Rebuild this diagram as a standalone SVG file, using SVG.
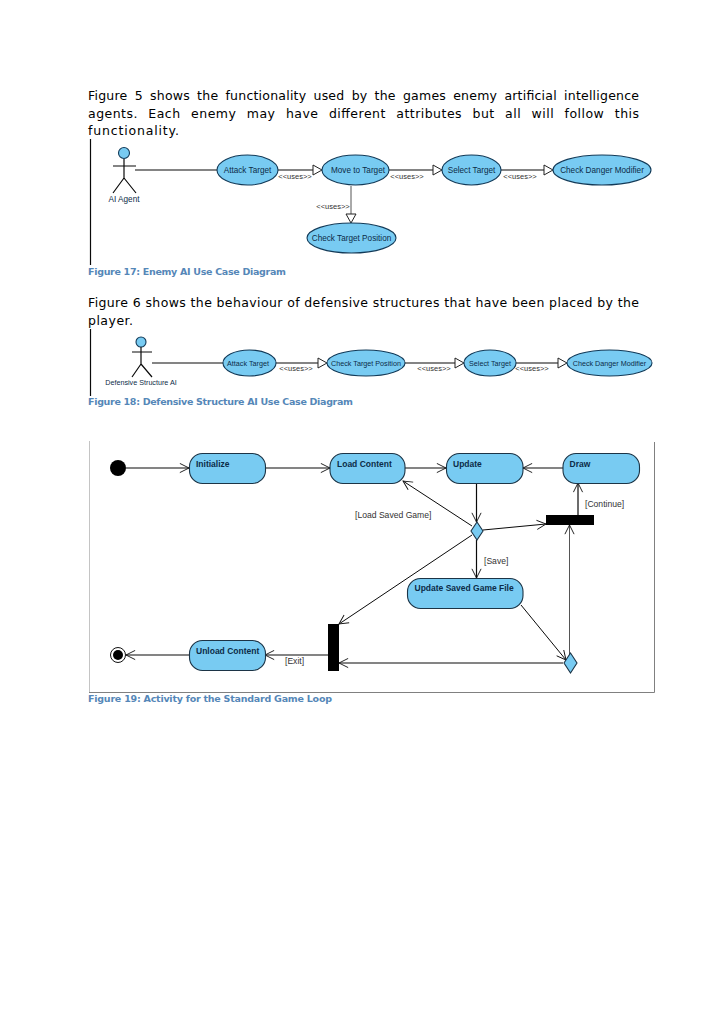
<svg xmlns="http://www.w3.org/2000/svg" width="728" height="1030" viewBox="0 0 728 1030">
<style>
.body{font-family:"DejaVu Sans","Liberation Sans",sans-serif;font-size:12.500px;fill:#000}
.cap{font-family:"DejaVu Sans","Liberation Sans",sans-serif;font-size:9.500px;font-weight:bold;fill:#5587b8}
.n{font-family:"Liberation Sans",Arial,sans-serif;font-size:8.200px;fill:#0c2c48;text-anchor:middle}
.n2{font-family:"Liberation Sans",Arial,sans-serif;font-size:7.200px;fill:#0c2c48;text-anchor:middle}
.b{font-family:"Liberation Sans",Arial,sans-serif;font-size:8.500px;font-weight:bold;fill:#0c2c48}
.l{font-family:"Liberation Sans",Arial,sans-serif;font-size:8.600px;fill:#333}
.u{font-family:"Liberation Sans",Arial,sans-serif;font-size:7.500px;fill:#333;text-anchor:middle}
.uc{fill:#78cbf2;stroke:#123a58;stroke-width:1.100}
.st{fill:#78cbf2;stroke:#1c3446;stroke-width:1.100}
.c{fill:none;stroke:#0a0a0a;stroke-width:1.200}
.g{fill:none;stroke:#555;stroke-width:1}
.tri{fill:#fff;stroke:#222;stroke-width:1}
.frame{fill:none;stroke:#c4c4c4;stroke-width:1}
.k{fill:#000}
</style>
<defs>
<marker id="open" viewBox="0 0 12 12" refX="11" refY="6" markerWidth="11" markerHeight="11" markerUnits="userSpaceOnUse" orient="auto"><path d="M1 1L11 6L1 11" fill="none" stroke="#111" stroke-width="1"/></marker>
</defs>
<rect width="728" height="1030" fill="#fff"/>

<g id="text">
<text class="body" x="88" y="100" textLength="551" lengthAdjust="spacing" style="word-spacing:3px">Figure 5 shows the functionality used by the games enemy artificial intelligence</text>
<text class="body" x="88" y="118" textLength="551" lengthAdjust="spacing" style="word-spacing:6px">agents. Each enemy may have different attributes but all will follow this</text>
<text class="body" x="88" y="135" textLength="91" lengthAdjust="spacing">functionality.</text>
<text class="cap" x="88" y="275" textLength="198" lengthAdjust="spacing">Figure 17: Enemy AI Use Case Diagram</text>
<text class="body" x="88" y="307" textLength="551" lengthAdjust="spacing">Figure 6 shows the behaviour of defensive structures that have been placed by the</text>
<text class="body" x="88" y="325" textLength="45" lengthAdjust="spacing">player.</text>
<text class="cap" x="88" y="405" textLength="265" lengthAdjust="spacing">Figure 18: Defensive Structure AI Use Case Diagram</text>
<text class="cap" x="88" y="702" textLength="244" lengthAdjust="spacing">Figure 19: Activity for the Standard Game Loop</text>
</g>

<g id="frames">
<path class="c" d="M90.500 139V265M90.500 329V396"/>
<path class="frame" d="M89.500 441V692.500"/>
<path d="M89 692.500H654.500V442" fill="none" stroke="#808080" stroke-width="1"/>
</g>

<g id="connectors">
<path class="c" d="M135 170H217M278 170H313M389 170H433M501 170H544M152 363H223M276 363H318M405 363H455M516 363H558"/>
<path class="g" d="M351 186V214"/>
<path class="c" marker-end="url(#open)" d="M126 468H189"/>
<path class="c" marker-end="url(#open)" d="M265 468H330"/>
<path class="c" marker-end="url(#open)" d="M405 468H446"/>
<path class="c" marker-end="url(#open)" d="M563 468H523"/>
<path class="c" marker-end="url(#open)" d="M476.500 483V522"/>
<path class="c" style="stroke-width:1" marker-end="url(#open)" d="M472 526L403 481"/>
<path class="c" style="stroke-width:1" marker-end="url(#open)" d="M483 530L546 524"/>
<path class="c" style="stroke-width:1" marker-end="url(#open)" d="M472 535L339 624"/>
<path class="c" marker-end="url(#open)" d="M476.500 540V578"/>
<path class="c" style="stroke-width:1" marker-end="url(#open)" d="M521 605L566 660"/>
<path class="g" marker-end="url(#open)" d="M569.500 654V525"/>
<path class="c" marker-end="url(#open)" d="M563 663H339"/>
<path class="c" marker-end="url(#open)" d="M578 515V483"/>
<path class="c" marker-end="url(#open)" d="M328 655H265"/>
<path class="c" marker-end="url(#open)" d="M189 655H126"/>
<g id="arrowheads">
<path class="tri" d="M313 165L322 170L313 175Z"/>
<path class="tri" d="M433 165L442 170L433 175Z"/>
<path class="tri" d="M544 165L553 170L544 175Z"/>
<path class="tri" d="M346 214L351 223L356 214Z"/>
<path class="tri" d="M318 358L327 363L318 368Z"/>
<path class="tri" d="M455 358L464 363L455 368Z"/>
<path class="tri" d="M558 358L567 363L558 368Z"/>
</g>
<g id="connector-labels">
<text class="u" x="295" y="179">&lt;&lt;uses&gt;&gt;</text>
<text class="u" x="407" y="179">&lt;&lt;uses&gt;&gt;</text>
<text class="u" x="520" y="179">&lt;&lt;uses&gt;&gt;</text>
<text class="u" x="333" y="209">&lt;&lt;uses&gt;&gt;</text>
<text class="u" x="296" y="371">&lt;&lt;uses&gt;&gt;</text>
<text class="u" x="434" y="371">&lt;&lt;uses&gt;&gt;</text>
<text class="u" x="532" y="371">&lt;&lt;uses&gt;&gt;</text>
<text class="l" x="355" y="518">[Load Saved Game]</text>
<text class="l" x="484" y="564">[Save]</text>
<text class="l" x="585" y="507">[Continue]</text>
<text class="l" x="285" y="664">[Exit]</text>
</g>
</g>

<g id="actor-ai-agent">
<circle class="uc" cx="124" cy="153" r="5.500"/>
<path class="c" d="M113 166H136M124 159V178M124 178L113 193M124 178L136 193"/>
<text class="n" x="124" y="202">AI Agent</text>
</g>
<g id="uc-attack-target"><ellipse class="uc" cx="247.500" cy="170" rx="30.500" ry="15"/><text class="n" x="247.500" y="173">Attack Target</text></g>
<g id="uc-move-to-target"><ellipse class="uc" cx="355.500" cy="170" rx="33.500" ry="15"/><text class="n" x="358" y="173">Move to Target</text></g>
<g id="uc-select-target"><ellipse class="uc" cx="471.500" cy="170" rx="29.500" ry="15"/><text class="n" x="471.500" y="173">Select Target</text></g>
<g id="uc-check-danger-modifier"><ellipse class="uc" cx="602" cy="170" rx="49" ry="15"/><text class="n" x="602" y="173">Check Danger Modifier</text></g>
<g id="uc-check-target-position"><ellipse class="uc" cx="351.500" cy="238" rx="44.500" ry="15"/><text class="n" x="351.500" y="241">Check Target Position</text></g>

<g id="actor-defensive-structure-ai">
<circle class="uc" cx="141" cy="342" r="5"/>
<path class="c" d="M132 352H152M141 347V364M141 364L132 377M141 364L152 377"/>
<text class="n2" x="141" y="385">Defensive Structure AI</text>
</g>
<g id="uc2-attack-target"><ellipse class="uc" cx="249.500" cy="363" rx="26.500" ry="13"/><text class="n2" x="248" y="366">Attack Target</text></g>
<g id="uc2-check-target-position"><ellipse class="uc" cx="366" cy="363" rx="39" ry="13"/><text class="n2" x="366" y="366">Check Target Position</text></g>
<g id="uc2-select-target"><ellipse class="uc" cx="490" cy="363" rx="26" ry="13"/><text class="n2" x="490" y="366">Select Target</text></g>
<g id="uc2-check-danger-modifier"><ellipse class="uc" cx="609.500" cy="363" rx="42.500" ry="13"/><text class="n2" x="609.500" y="366">Check Danger Modifier</text></g>

<g id="start"><circle class="k" cx="118" cy="468" r="8"/></g>
<g id="initialize"><rect class="st" x="189.500" y="453.500" width="76" height="30" rx="13"/><text class="b" x="196" y="467">Initialize</text></g>
<g id="load-content"><rect class="st" x="330" y="453.500" width="75" height="30" rx="13"/><text class="b" x="337" y="467">Load Content</text></g>
<g id="update"><rect class="st" x="446.500" y="453.500" width="76.500" height="30" rx="13"/><text class="b" x="453" y="467">Update</text></g>
<g id="draw"><rect class="st" x="563" y="453.500" width="76.500" height="30" rx="13"/><text class="b" x="569.500" y="467">Draw</text></g>
<g id="update-saved-game-file"><rect class="st" x="407.500" y="578.500" width="115.500" height="30" rx="13"/><text class="b" x="414.500" y="591">Update Saved Game File</text></g>
<g id="unload-content"><rect class="st" x="189.500" y="640.500" width="76" height="30" rx="13"/><text class="b" x="196" y="654">Unload Content</text></g>
<g id="end"><circle cx="118" cy="655" r="7.500" fill="#fff" stroke="#111"/><circle class="k" cx="118" cy="655" r="5"/></g>
<g id="decision-1"><path class="st" d="M477 522L483 531L477 540L471 531Z"/></g>
<g id="decision-2"><path class="st" d="M570.500 653L577 663L570.500 673L564 663Z"/></g>
<g id="join-bar"><rect class="k" x="546" y="515" width="48" height="10"/></g>
<g id="fork-bar"><rect class="k" x="328" y="624" width="11" height="47"/></g>
</svg>
